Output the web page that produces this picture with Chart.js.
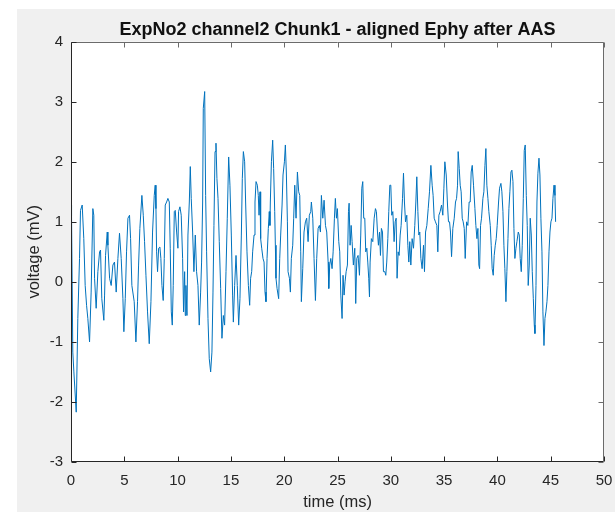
<!DOCTYPE html>
<html>
<head>
<meta charset="utf-8">
<title>ExpNo2 channel2 Chunk1</title>
<script src="https://cdn.jsdelivr.net/npm/chart.js@4.4.0/dist/chart.umd.min.js"></script>
<style>
    html, body { margin: 0; padding: 0; background: #ffffff; }
    #wrap { position: relative; width: 615px; height: 512px; overflow: hidden; }
    #fig-bg { position: absolute; left: 17px; top: 9px; right: 0; bottom: 0; background: #f0f0f0; }
    #ephy-chart { position: absolute; left: 0; top: 0; }
</style>
</head>
<body>
<div id="wrap">
    <div id="fig-bg"></div>
    <canvas id="ephy-chart" width="615" height="512"></canvas>
</div>
<script>
// --- DATA ---
const chartTitle = 'ExpNo2 channel2 Chunk1 - aligned Ephy after AAS';
const xLabel = 'time (ms)';
const yLabel = 'voltage (mV)';
const xTicks = [0, 5, 10, 15, 20, 25, 30, 35, 40, 45, 50];
const yTicks = [-3, -2, -1, 0, 1, 2, 3, 4];

const timeMs = [
    0.00, 0.05, 0.17, 0.27, 0.49, 0.64, 0.80, 0.89, 1.05, 1.20,
    1.33, 1.46, 1.58, 1.74, 1.89, 2.05, 2.14, 2.21, 2.36, 2.52,
    2.68, 2.77, 2.89, 3.08, 3.15, 3.24, 3.40, 3.46, 3.62, 3.77,
    3.93, 4.08, 4.24, 4.40, 4.55, 4.71, 4.87, 4.96, 5.09, 5.21,
    5.34, 5.49, 5.59, 5.71,
    5.93, 6.09, 6.24, 6.34, 6.46, 6.65, 6.78, 6.90, 7.03, 7.18,
    7.34, 7.50, 7.65, 7.81, 7.90, 7.97, 8.03, 8.12, 8.22, 8.34,
    8.43, 8.53, 8.65, 8.75, 8.84, 8.97, 9.09, 9.22, 9.31, 9.41,
    9.50, 9.59, 9.69, 9.78, 9.91, 10.03, 10.09, 10.22, 10.34, 10.47,
    10.56, 10.66, 10.72, 10.78, 10.88, 10.97, 11.10, 11.19, 11.28, 11.41,
    11.53, 11.66, 11.78, 11.91, 12.03, 12.16,
    12.25, 12.35, 12.41, 12.54, 12.63, 12.72, 12.85, 12.97, 13.10, 13.22,
    13.32, 13.41, 13.51, 13.60, 13.69, 13.79, 13.91, 14.04, 14.16, 14.29,
    14.41, 14.54, 14.66, 14.79, 14.91, 15.04, 15.16, 15.23, 15.35, 15.48,
    15.60, 15.73, 15.85, 15.98, 16.07, 16.17, 16.29, 16.38, 16.51, 16.64,
    16.76, 16.85, 16.95, 17.04, 17.17, 17.26, 17.36, 17.48, 17.57, 17.64,
    17.73, 17.79, 17.89, 18.01, 18.11, 18.20, 18.29, 18.39, 18.51,
    18.60, 18.66, 18.70, 18.80, 18.92, 19.01, 19.11, 19.17, 19.23, 19.33,
    19.48, 19.58, 19.67, 19.80, 19.89, 20.02, 20.11, 20.20, 20.30, 20.36,
    20.49, 20.58, 20.67, 20.80, 20.89, 20.99, 21.11, 21.24, 21.36, 21.46,
    21.55, 21.61, 21.74, 21.86, 21.99, 22.11, 22.24, 22.36, 22.49, 22.55,
    22.68, 22.80, 22.93, 23.05, 23.18, 23.30, 23.40, 23.49, 23.62, 23.74,
    23.87, 23.99, 24.12, 24.18, 24.27, 24.37, 24.49, 24.59, 24.71, 24.80,
    24.90, 24.99,
    25.12, 25.21, 25.31, 25.43, 25.52, 25.62, 25.71, 25.81, 25.93, 26.03,
    26.09, 26.18, 26.28, 26.37, 26.49, 26.62, 26.71, 26.81, 26.93, 27.06,
    27.18, 27.28, 27.37, 27.46, 27.56, 27.65, 27.75, 27.84, 27.93, 28.00,
    28.06, 28.18, 28.31, 28.44, 28.56, 28.65, 28.75, 28.84, 28.94, 29.03,
    29.12, 29.22, 29.31, 29.44, 29.53, 29.62, 29.72, 29.81, 29.91, 30.00,
    30.09, 30.19, 30.31, 30.41, 30.50, 30.59, 30.69, 30.78, 30.88, 30.97,
    31.10, 31.19, 31.28, 31.38,
    31.50, 31.60, 31.69, 31.78, 31.88, 32.00, 32.13, 32.25, 32.35, 32.44,
    32.54, 32.63, 32.72, 32.82, 32.94, 33.07, 33.16, 33.26, 33.38, 33.51,
    33.63, 33.76, 33.88, 33.97, 34.07, 34.19, 34.32, 34.41, 34.51, 34.63,
    34.76, 34.88, 34.98, 35.07, 35.20, 35.32, 35.41, 35.51, 35.60, 35.70,
    35.82, 35.95, 36.07, 36.17, 36.26, 36.32, 36.42, 36.51, 36.60, 36.70,
    36.79, 36.89, 36.98, 37.11, 37.23, 37.35, 37.45, 37.54, 37.64, 37.76,
    37.89, 37.98, 38.08, 38.17, 38.26, 38.33, 38.42, 38.51, 38.64, 38.73,
    38.83, 38.92, 39.01, 39.11, 39.20, 39.33, 39.42, 39.51, 39.61, 39.70,
    39.80, 39.89, 39.98, 40.11, 40.20, 40.33, 40.42, 40.52, 40.61, 40.70,
    40.80, 40.89, 40.99, 41.08, 41.17, 41.27, 41.36, 41.46, 41.55, 41.64,
    41.74, 41.83, 41.96, 42.05, 42.14, 42.24, 42.33, 42.43, 42.52, 42.61,
    42.71, 42.80, 42.89, 42.99, 43.08, 43.18, 43.27, 43.37, 43.46, 43.52,
    43.62, 43.71, 43.80, 43.90, 43.99, 44.08, 44.18, 44.27, 44.37, 44.46,
    44.55, 44.65, 44.74, 44.84, 44.93, 45.02, 45.12, 45.21, 45.31, 45.40,
    45.46
];

const voltageMv = [
    1.28, 1.10, -1.17, -1.50, -2.17, -0.61, 0.39, 1.19, 1.28, 0.72,
    -0.06, -0.39, -0.61, -1.00, -0.17, 1.22, 1.11, 0.06, -0.44, 0.17,
    0.50, 0.53, -0.28, -0.64, -0.22, 0.44, 0.83, 0.61, 0.06, -0.06,
    0.28, 0.33, -0.17, 0.39, 0.81, 0.39, -0.28, -0.83, -0.28, 0.50,
    1.06, 1.11, 0.72, -0.06,
    -0.33, -1.00, -0.33, 0.28, 0.89, 1.44, 1.11, 0.67, 0.11, -0.50,
    -1.03, -0.33, 0.83, 1.44, 1.61, 1.22, 0.50, 0.17, 0.56, 0.58,
    0.39, -0.06, -0.31, 0.39, 1.28, 1.33, 1.39, 1.33, 0.56, -0.50,
    -0.72, -0.06, 1.17, 1.19, 0.83, 0.56, 1.17, 1.25, 1.11, 0.39,
    -0.50, 0.17, -0.56, -0.06, -0.56, 0.78, 1.33, 1.92, 1.39, 0.83,
    0.17, 0.78, 0.17, -0.06, -0.72, -0.17,
    0.33, 1.33, 2.89, 3.17, 1.44, 0.50, -0.61, -1.28, -1.50, -1.17,
    -0.17, 0.94, 2.17, 2.31, 1.72, 1.39, 0.67, -0.11, -0.94, -0.56,
    -0.72, 0.17, 1.06, 2.08, 1.61, 0.78, -0.22, -0.67, -0.06, 0.44,
    -0.06, -0.72, -0.28, 0.78, 1.72, 2.17, 2.00, 1.33, 0.50, -0.06,
    -0.39, 0.06, 0.17, 0.50, 0.78, 1.33, 1.67, 1.61, 1.44, 1.11,
    1.50, 0.72, 0.56, 0.39, 0.33, -0.17, -0.33, 0.39, 0.89,
    1.17, 0.94, 1.33, 2.00, 2.36, 1.89, 1.17, 0.61, 0.06, -0.11,
    -0.28, 0.39, 0.78, 1.28, 1.78, 2.00, 2.28, 1.83, 1.00, 0.17,
    0.06, -0.17, 0.39, 0.61, 1.06, 1.61, 1.06, 1.83, 1.50, 1.44,
    0.50, -0.33, 0.22, 0.83, 1.00, 1.06, 0.67, 1.11, 1.17, 1.33,
    1.06, 0.39, -0.31, 0.39, 0.89, 0.94, 0.83, 1.44, 1.06, 1.36,
    0.94, 0.83, 0.33, -0.11, 0.28, 0.39, 0.22, 0.50, 1.06, 1.39,
    1.06, 1.22,
    0.67, 0.50, -0.22, -0.61, 0.11, -0.22, 0.00, 0.17, 0.28, 1.17,
    1.31, 0.61, 0.94, 0.67, 0.28, 0.56, -0.36, 0.39, 0.44, 0.11,
    0.78, 1.56, 1.67, 1.06, 1.06, 0.50, 0.56, 0.33, 0.06, -0.25,
    0.33, 0.72, 0.67, 1.06, 1.22, 1.17, 0.83, 0.61, 0.83, 0.44,
    0.89, 0.83, 0.17, 0.17, 0.11, 0.33, 0.72, 1.17, 1.61, 1.61,
    1.11, 1.17, 0.67, 1.00, 1.06, 0.06, 0.50, 0.44, 0.78, 0.94,
    1.39, 1.81, 1.33, 1.00,
    1.11, 0.61, 0.33, 0.67, 0.28, 0.72, 0.56, 0.94, 1.33, 1.75,
    1.17, 0.78, 0.83, 0.39, 0.22, 0.61, 0.17, 0.83, 0.94, 1.22,
    1.50, 1.94, 1.61, 1.44, 1.06, 1.00, 0.94, 0.50, 1.11, 1.17,
    1.28, 1.11, 1.56, 2.00, 1.78, 1.28, 1.00, 1.00, 0.83, 0.42,
    0.89, 1.06, 1.33, 1.39, 1.61, 2.17, 1.89, 1.61, 1.50, 1.06,
    1.00, 0.89, 0.39, 1.00, 0.94, 1.33, 1.33, 1.83, 1.94, 1.61,
    1.22, 0.94, 0.72, 0.89, 0.28, 0.22, 0.94, 1.06, 1.39, 1.50,
    1.94, 2.22, 1.61, 1.39, 1.17, 0.94, 0.61, 0.22, 0.11, 0.44,
    0.61, 0.72, 0.94, 1.33, 1.56, 1.64, 1.50, 1.17, 0.61, 0.22,
    -0.33, 0.17, 0.72, 1.22, 1.50, 1.83, 1.86, 1.67, 0.89, 0.39,
    0.56, 0.67, 0.83, 0.78, 0.39, 0.17, 0.61, 1.39, 2.19, 2.28,
    1.44, 0.94, -0.06, 0.28, 1.06, 0.78, 0.17, -0.28, -0.72, -0.86,
    -0.06, 1.33, 1.81, 2.06, 1.78, 1.06, 0.50, -0.50, -1.06, -0.61,
    -0.50, -0.33, -0.06, 0.50, 0.83, 1.00, 1.06, 1.39, 1.61, 1.44,
    1.00
];

if (timeMs.length !== voltageMv.length) {
    console.warn('length mismatch', timeMs.length, voltageMv.length);
}

// --- STYLE ---
const FONT = '"Liberation Sans", Arial, Helvetica, sans-serif';
const AXIS_COLOR = '#262626';
const LINE_COLOR = '#0072BD';

// white plot area, MATLAB-style box with inward ticks
const matlabAxes = {
    id: 'matlabAxes',
    beforeDraw(chart) {
        const { ctx, chartArea: a } = chart;
        ctx.save();
        ctx.fillStyle = '#ffffff';
        ctx.fillRect(a.left, a.top, a.right - a.left, a.bottom - a.top);
        ctx.restore();
    },
    afterDraw(chart) {
        const { ctx, chartArea: a, scales } = chart;
        const L = Math.round(a.left) + 0.5;
        const R = Math.round(a.right) - 0.5;
        const T = Math.round(a.top) + 0.5;
        const B = Math.round(a.bottom) - 0.5;
        const tick = 5;
        ctx.save();
        ctx.lineWidth = 1;

        ctx.strokeStyle = '#6b6b6b';
        ctx.beginPath();
        ctx.moveTo(L, T); ctx.lineTo(R, T); ctx.lineTo(R, B);
        xTicks.forEach((v) => {
            const x = Math.round(scales.x.getPixelForValue(v)) + 0.5;
            ctx.moveTo(x, T); ctx.lineTo(x, T + tick);
        });
        yTicks.forEach((v) => {
            const y = Math.round(scales.y.getPixelForValue(v)) + 0.5;
            ctx.moveTo(R, y); ctx.lineTo(R - tick, y);
        });
        ctx.stroke();

        ctx.strokeStyle = AXIS_COLOR;
        ctx.beginPath();
        ctx.moveTo(L, T); ctx.lineTo(L, B); ctx.lineTo(R, B);
        xTicks.forEach((v) => {
            const x = Math.round(scales.x.getPixelForValue(v)) + 0.5;
            ctx.moveTo(x, B); ctx.lineTo(x, B - tick);
        });
        yTicks.forEach((v) => {
            const y = Math.round(scales.y.getPixelForValue(v)) + 0.5;
            ctx.moveTo(L, y); ctx.lineTo(L + tick, y);
        });
        ctx.stroke();
        ctx.restore();
    },
};

const ctx = document.getElementById('ephy-chart').getContext('2d');
const ephyChart = new Chart(ctx, {
    type: 'line',
    data: {
        datasets: [
            {
                data: timeMs.map((t, i) => ({ x: t, y: voltageMv[i] })),
                borderColor: LINE_COLOR,
                borderWidth: 1,
                pointRadius: 0,
                tension: 0,
                fill: false,
            },
        ],
    },
    options: {
        responsive: false,
        animation: false,
        devicePixelRatio: 1,
        layout: { padding: { left: 0, right: 11, top: 0, bottom: 0 } },
        plugins: {
            legend: { display: false },
            tooltip: { enabled: false },
            title: {
                display: true,
                fullSize: false,
                text: chartTitle,
                color: '#111111',
                font: { family: FONT, size: 18, weight: 'bold' },
                padding: { top: 19.2, bottom: 0.9 },
            },
        },
        scales: {
            x: {
                type: 'linear',
                min: xTicks[0],
                max: xTicks[xTicks.length - 1],
                afterBuildTicks: (scale) => {
                    scale.ticks = xTicks.map((v) => ({ value: v }));
                },
                afterFit: (scale) => {
                    scale.height = 50;
                    scale.paddingLeft = 0;
                    scale.paddingRight = 0;
                },
                grid: { display: false, drawTicks: false },
                border: { display: false },
                ticks: {
                    color: AXIS_COLOR,
                    font: { family: FONT, size: 15 },
                    padding: 10,
                    maxRotation: 0,
                },
                title: {
                    display: true,
                    text: xLabel,
                    color: AXIS_COLOR,
                    font: { family: FONT, size: 16.5 },
                    padding: { top: 0, bottom: 0 },
                },
            },
            y: {
                type: 'linear',
                min: yTicks[0],
                max: yTicks[yTicks.length - 1],
                afterBuildTicks: (scale) => {
                    scale.ticks = yTicks.map((v) => ({ value: v }));
                },
                afterFit: (scale) => {
                    scale.width = 71;
                    scale.paddingTop = 0;
                    scale.paddingBottom = 0;
                },
                grid: { display: false, drawTicks: false },
                border: { display: false },
                ticks: {
                    color: AXIS_COLOR,
                    font: { family: FONT, size: 15 },
                    padding: 8,
                },
                title: {
                    display: true,
                    text: yLabel,
                    color: AXIS_COLOR,
                    font: { family: FONT, size: 16.5 },
                    padding: { top: 25, bottom: 0 },
                },
            },
        },
    },
    plugins: [matlabAxes],
});
</script>
</body>
</html>
